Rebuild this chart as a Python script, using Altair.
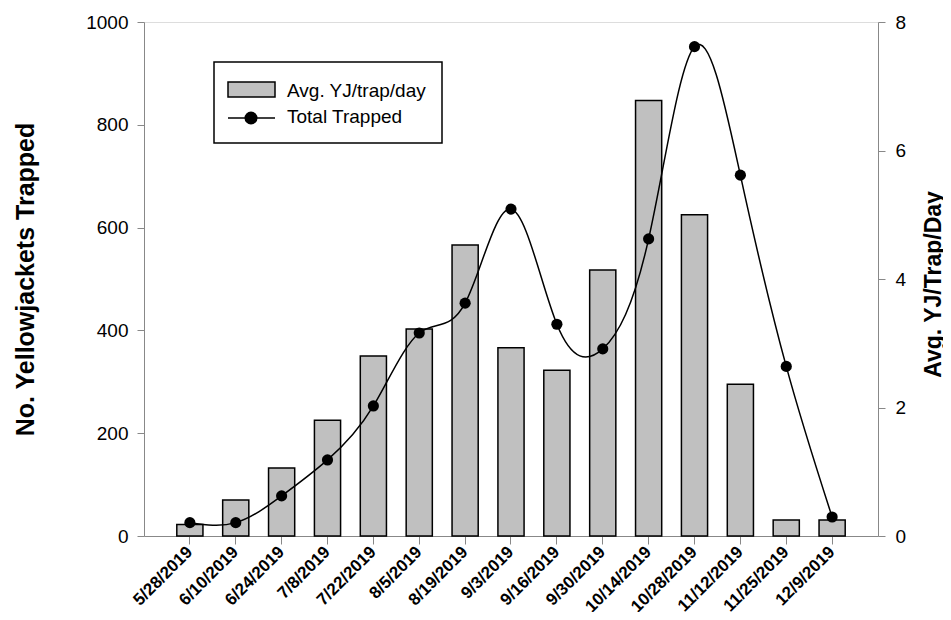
import altair as alt
import pandas as pd

dates = ["5/28/2019", "6/10/2019", "6/24/2019", "7/8/2019", "7/22/2019", "8/5/2019",
         "8/19/2019", "9/3/2019", "9/16/2019", "9/30/2019", "10/14/2019", "10/28/2019",
         "11/12/2019", "11/25/2019", "12/9/2019"]
avg_per_trap_day = [0.18, 0.56, 1.06, 1.80, 2.80, 3.22, 4.53, 2.93, 2.58, 4.14, 6.78, 5.00, 2.36, 0.25, 0.25]
total_trapped = [26, 26, 78, 148, 253, 395, 453, 636, 412, 364, 578, 952, 702, 330, 37]
left_ticks = [0, 200, 400, 600, 800, 1000]
right_ticks = [0, 2, 4, 6, 8]

df = pd.DataFrame({"date": dates, "avg": avg_per_trap_day, "total": total_trapped})
leg_df = pd.DataFrame({"k": [0]})

FONT = "Liberation Sans"

xenc = alt.X(
    "date:N", sort=dates,
    scale=alt.Scale(paddingInner=0.43, paddingOuter=0.715),
    axis=alt.Axis(title=None, labelAngle=-45, labelAlign="right", labelBaseline="middle",
                  labelFontWeight="bold", labelFontSize=17, labelPadding=5, tickSize=8),
)

left_axis = alt.Axis(orient="left", values=left_ticks, format="d", title="No. Yellowjackets Trapped",
                     titleAngle=270, titleX=-111, titleY=257, titleAlign="center",
                     titleBaseline="alphabetic", titleFontSize=25, titleFontWeight="bold",
                     labelFontSize=19, labelPadding=9, tickSize=7, grid=False)
right_axis = alt.Axis(orient="right", values=right_ticks, format="d", title="Avg. YJ/Trap/Day",
                      titleAngle=270, titleX=62, titleY=262, titleAlign="center",
                      titleBaseline="alphabetic", titleFontSize=23, titleFontWeight="bold",
                      labelFontSize=19, labelPadding=10, tickSize=7, grid=False)

bars = alt.Chart(df).mark_bar(fill="#c0c0c0", stroke="black", strokeWidth=1.5).encode(
    x=xenc,
    y=alt.Y("avg:Q", scale=alt.Scale(domain=[0, 8], nice=False), axis=right_axis),
)

yleft = alt.Y("total:Q", scale=alt.Scale(domain=[0, 1000], nice=False), axis=left_axis)
line = alt.Chart(df).mark_line(color="black", strokeWidth=1.5, interpolate="natural").encode(
    x=xenc, y=yleft)
points = alt.Chart(df).mark_circle(color="black", size=125, opacity=1).encode(x=xenc, y=yleft)
total_layer = alt.layer(line, points)

box = alt.Chart(leg_df).mark_rect(fill="white", stroke="black", strokeWidth=1.5).encode(
    x=alt.value(70), x2=alt.value(298), y=alt.value(40), y2=alt.value(121))
swatch = alt.Chart(leg_df).mark_rect(fill="#c0c0c0", stroke="black", strokeWidth=1.5).encode(
    x=alt.value(84), x2=alt.value(131), y=alt.value(60), y2=alt.value(75))
legline = alt.Chart(leg_df).mark_rule(color="black", strokeWidth=1.5).encode(
    x=alt.value(84), x2=alt.value(131), y=alt.value(96))
legdot = alt.Chart(leg_df).mark_circle(color="black", size=170, opacity=1).encode(
    x=alt.value(107), y=alt.value(96))
t1 = alt.Chart(leg_df).mark_text(align="left", baseline="alphabetic", fontSize=19, font=FONT,
                                 color="black").encode(
    x=alt.value(143), y=alt.value(75), text=alt.value("Avg. YJ/trap/day"))
t2 = alt.Chart(leg_df).mark_text(align="left", baseline="alphabetic", fontSize=19, font=FONT,
                                 color="black").encode(
    x=alt.value(143), y=alt.value(101), text=alt.value("Total Trapped"))

chart = alt.layer(bars, total_layer, box, swatch, legline, legdot, t1, t2).resolve_scale(
    y="independent"
).properties(
    width=734, height=514,
    padding={"left": 136, "top": 14, "right": 65, "bottom": 76},
    autosize=alt.AutoSizeParams(type="none"),
).configure_view(
    stroke="black", strokeWidth=1.5
).configure_axis(
    domainColor="black", tickColor="black", domainWidth=1.5, tickWidth=1.5,
    labelColor="black", titleColor="black", labelFont=FONT, titleFont=FONT,
).configure(background="white")

chart.save("out.html", embed_options={"renderer": "svg", "actions": False})
